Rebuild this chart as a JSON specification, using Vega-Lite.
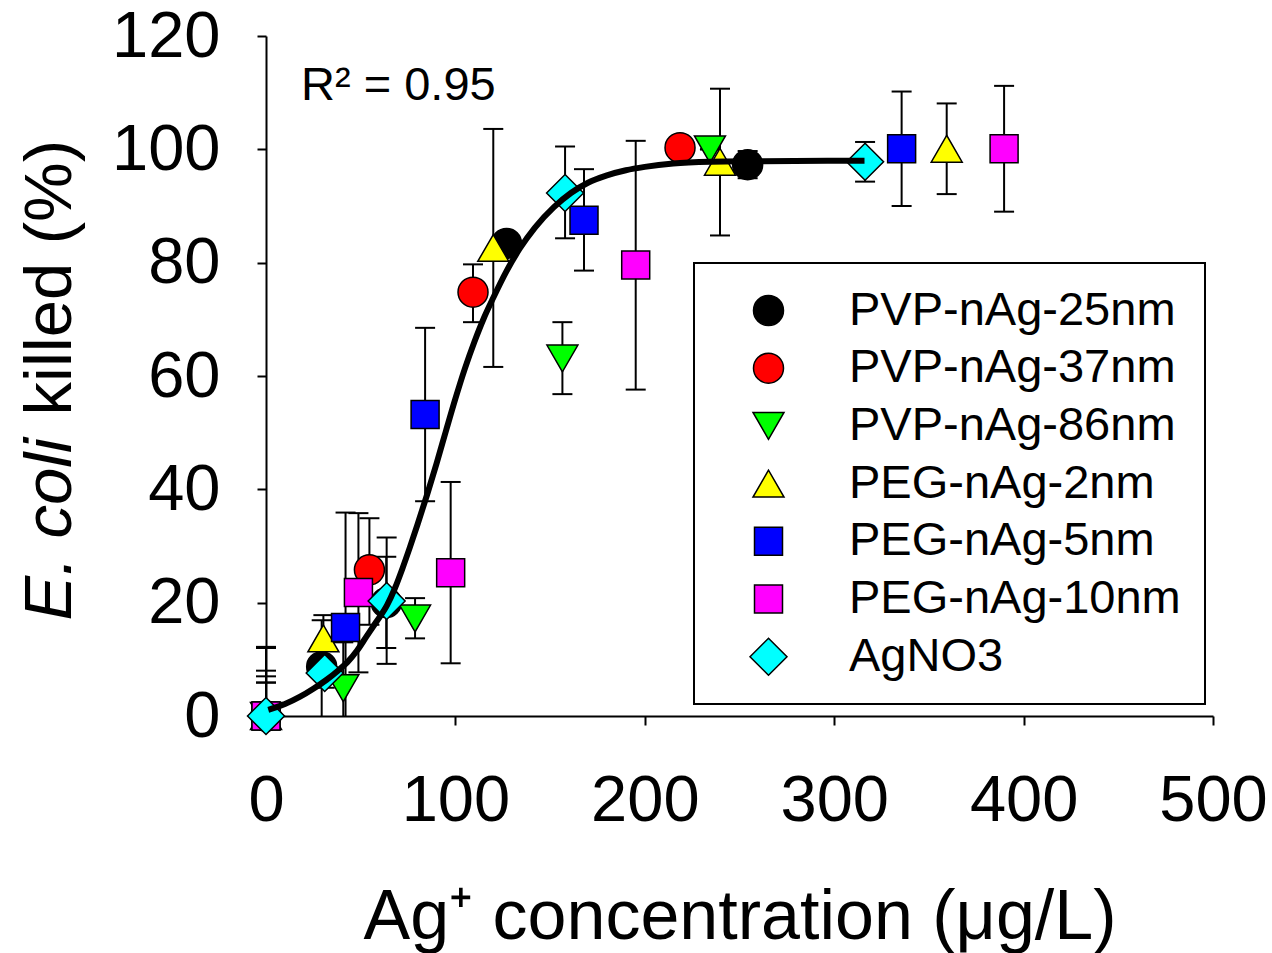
{
  "$schema": "https://vega.github.io/schema/vega-lite/v6.json",
  "width": 947,
  "height": 680,
  "autosize": "none",
  "padding": {"left": 266, "top": 36, "right": 59, "bottom": 237},
  "background": "white",
  "config": {
    "view": {"stroke": null},
    "font": "Liberation Sans",
    "axis": {"grid": false},
    "legend": {"strokeWidth": 2}
  },
  "datasets": {
    "points": [
      {"series": "PVP-nAg-25nm", "x": 0, "y": 0, "lo": 0, "hi": 12.2},
      {"series": "PVP-nAg-25nm", "x": 29.4, "y": 8.7, "lo": 0, "hi": 16.9},
      {"series": "PVP-nAg-25nm", "x": 63.5, "y": 20, "lo": 12, "hi": 28.1},
      {"series": "PVP-nAg-25nm", "x": 127, "y": 83.4, "lo": 83.4, "hi": 83.4},
      {"series": "PVP-nAg-25nm", "x": 254.3, "y": 97.3, "lo": 94.9, "hi": 99.7},
      {"series": "PVP-nAg-37nm", "x": 0, "y": 0, "lo": 0, "hi": 12.0},
      {"series": "PVP-nAg-37nm", "x": 54.6, "y": 25.8, "lo": 16.1, "hi": 34.9},
      {"series": "PVP-nAg-37nm", "x": 109.3, "y": 74.8, "lo": 69.5, "hi": 79.7},
      {"series": "PVP-nAg-37nm", "x": 218.6, "y": 100.3, "lo": 100.3, "hi": 100.3},
      {"series": "PVP-nAg-86nm", "x": 0, "y": 0, "lo": 0, "hi": 8},
      {"series": "PVP-nAg-86nm", "x": 40.8, "y": 4.9, "lo": 0, "hi": 13},
      {"series": "PVP-nAg-86nm", "x": 78.7, "y": 17.2, "lo": 13.7, "hi": 20.8},
      {"series": "PVP-nAg-86nm", "x": 156.5, "y": 63.1, "lo": 56.8, "hi": 69.5},
      {"series": "PVP-nAg-86nm", "x": 234.4, "y": 100.0, "lo": 100.0, "hi": 100.0},
      {"series": "PEG-nAg-2nm", "x": 0, "y": 0, "lo": 0, "hi": 7},
      {"series": "PEG-nAg-2nm", "x": 30.3, "y": 13.7, "lo": 9.6, "hi": 17.8},
      {"series": "PEG-nAg-2nm", "x": 120, "y": 82.6, "lo": 61.6, "hi": 103.6},
      {"series": "PEG-nAg-2nm", "x": 239.7, "y": 97.8, "lo": 84.8, "hi": 110.7},
      {"series": "PEG-nAg-2nm", "x": 359.4, "y": 100.1, "lo": 92.1, "hi": 108.1},
      {"series": "PEG-nAg-5nm", "x": 0, "y": 0, "lo": 0, "hi": 5.9},
      {"series": "PEG-nAg-5nm", "x": 42, "y": 15.6, "lo": 0, "hi": 35.9},
      {"series": "PEG-nAg-5nm", "x": 84, "y": 53.2, "lo": 37.9, "hi": 68.5},
      {"series": "PEG-nAg-5nm", "x": 167.9, "y": 87.5, "lo": 78.6, "hi": 96.5},
      {"series": "PEG-nAg-5nm", "x": 335.6, "y": 100.1, "lo": 90.0, "hi": 110.2},
      {"series": "PEG-nAg-10nm", "x": 0, "y": 0, "lo": 0, "hi": 5.9},
      {"series": "PEG-nAg-10nm", "x": 48.8, "y": 21.8, "lo": 7.7, "hi": 35.8},
      {"series": "PEG-nAg-10nm", "x": 97.5, "y": 25.3, "lo": 9.3, "hi": 41.3},
      {"series": "PEG-nAg-10nm", "x": 195.2, "y": 79.6, "lo": 57.6, "hi": 101.5},
      {"series": "PEG-nAg-10nm", "x": 389.7, "y": 100.1, "lo": 89.0, "hi": 111.2},
      {"series": "AgNO3", "x": 0, "y": 0, "lo": 0, "hi": 0},
      {"series": "AgNO3", "x": 31, "y": 7.6, "lo": 5, "hi": 10},
      {"series": "AgNO3", "x": 63.7, "y": 20.3, "lo": 9.2, "hi": 31.5},
      {"series": "AgNO3", "x": 157.9, "y": 92.3, "lo": 84.3, "hi": 100.5},
      {"series": "AgNO3", "x": 316.3, "y": 97.8, "lo": 94.3, "hi": 101.3}
    ],
    "curve": [
      {"x": 1.2, "y": 1.1}, {"x": 10, "y": 2.1}, {"x": 18, "y": 3.4}, {"x": 25, "y": 4.8},
      {"x": 32, "y": 6.4}, {"x": 38, "y": 8.0}, {"x": 43, "y": 9.5}, {"x": 48, "y": 11.5},
      {"x": 53, "y": 14.0}, {"x": 58, "y": 16.5}, {"x": 64, "y": 19.6}, {"x": 68, "y": 22.5},
      {"x": 72, "y": 26.0}, {"x": 76, "y": 29.8}, {"x": 80, "y": 33.8}, {"x": 85, "y": 39.0},
      {"x": 90, "y": 44.5}, {"x": 95, "y": 50.3}, {"x": 100, "y": 56.0}, {"x": 105, "y": 61.3},
      {"x": 110, "y": 66.0}, {"x": 115, "y": 70.2}, {"x": 120, "y": 73.8}, {"x": 127, "y": 78.5},
      {"x": 134, "y": 82.5}, {"x": 142, "y": 86.2}, {"x": 152, "y": 89.8}, {"x": 161, "y": 92.3},
      {"x": 170, "y": 94.1}, {"x": 180, "y": 95.4}, {"x": 190, "y": 96.3}, {"x": 200, "y": 96.9},
      {"x": 215, "y": 97.5}, {"x": 235, "y": 97.8}, {"x": 260, "y": 97.9}, {"x": 316, "y": 98.0}
    ],
    "note": [{"label": "R² = 0.95"}]
  },
  "layer": [
    {
      "data": {"name": "points"},
      "mark": {"type": "rule", "color": "black", "strokeWidth": 2},
      "encoding": {
        "x": {
          "field": "x", "type": "quantitative",
          "scale": {"domain": [0, 500], "nice": false},
          "axis": {
            "values": [0, 100, 200, 300, 400, 500],
            "title": "Ag⁺ concentration (μg/L)",
            "titleFont": "Liberation Sans", "titleFontSize": 70, "titleFontWeight": "normal",
            "titleColor": "black", "titleY": 222, "titleBaseline": "alphabetic",
            "labelFont": "Liberation Sans", "labelFontSize": 65, "labelColor": "black",
            "labelPadding": 44, "labelFlush": false, "labelOverlap": false,
            "tickSize": 9, "tickWidth": 2, "tickColor": "black",
            "domainColor": "black", "domainWidth": 2, "grid": false
          }
        },
        "y": {
          "field": "lo", "type": "quantitative",
          "scale": {"domain": [0, 120], "nice": false},
          "axis": {
            "values": [0, 20, 40, 60, 80, 100, 120],
            "title": "killed (%)",
            "titleFont": "Liberation Sans", "titleFontSize": 67, "titleFontWeight": "normal",
            "titleColor": "black", "titleAngle": -90, "titleAlign": "left",
            "titleBaseline": "alphabetic", "titleX": -196, "titleY": 379,
            "labelFont": "Liberation Sans", "labelFontSize": 65, "labelColor": "black",
            "labelPadding": 37, "labelOverlap": false, "labelFlush": false,
            "tickSize": 9, "tickWidth": 2, "tickColor": "black",
            "domainColor": "black", "domainWidth": 2, "grid": false
          }
        },
        "y2": {"field": "hi"}
      }
    },
    {
      "data": {"name": "points"},
      "mark": {"type": "tick", "orient": "horizontal", "color": "black", "size": 20, "thickness": 2, "opacity": 1},
      "encoding": {
        "x": {"field": "x", "type": "quantitative", "scale": {"domain": [0, 500], "nice": false}, "axis": null},
        "y": {"field": "hi", "type": "quantitative", "scale": {"domain": [0, 120], "nice": false}, "axis": null}
      }
    },
    {
      "data": {"name": "points"},
      "transform": [{"filter": "datum.lo > 0"}],
      "mark": {"type": "tick", "orient": "horizontal", "color": "black", "size": 20, "thickness": 2, "opacity": 1},
      "encoding": {
        "x": {"field": "x", "type": "quantitative", "scale": {"domain": [0, 500], "nice": false}, "axis": null},
        "y": {"field": "lo", "type": "quantitative", "scale": {"domain": [0, 120], "nice": false}, "axis": null}
      }
    },
    {
      "data": {"name": "points"},
      "mark": {"type": "point", "filled": true, "stroke": "black", "strokeWidth": 1.5, "opacity": 1, "fillOpacity": 1},
      "encoding": {
        "x": {"field": "x", "type": "quantitative", "scale": {"domain": [0, 500], "nice": false}, "axis": null},
        "y": {"field": "y", "type": "quantitative", "scale": {"domain": [0, 120], "nice": false}, "axis": null},
        "fill": {
          "field": "series", "type": "nominal",
          "scale": {
            "domain": ["PVP-nAg-25nm", "PVP-nAg-37nm", "PVP-nAg-86nm", "PEG-nAg-2nm", "PEG-nAg-5nm", "PEG-nAg-10nm", "AgNO3"],
            "range": ["#000000", "#ff0000", "#00ff00", "#ffff00", "#0000ff", "#ff00ff", "#00ffff"]
          },
          "legend": {
            "title": null, "orient": "none", "legendX": 428, "legendY": 227,
            "labelFont": "Liberation Sans", "labelFontSize": 47, "labelColor": "black",
            "labelLimit": 600,
            "strokeColor": "black", "fillColor": "white", "padding": 24,
            "symbolOffset": 27, "labelOffset": 57, "rowPadding": 9.7,
            "symbolStrokeColor": "black", "symbolStrokeWidth": 1.5, "symbolOpacity": 1,
            "encode": {"symbols": {"update": {"stroke": {"value": "black"}, "strokeWidth": {"value": 1.5}}}}
          }
        },
        "shape": {
          "field": "series", "type": "nominal",
          "scale": {
            "domain": ["PVP-nAg-25nm", "PVP-nAg-37nm", "PVP-nAg-86nm", "PEG-nAg-2nm", "PEG-nAg-5nm", "PEG-nAg-10nm", "AgNO3"],
            "range": ["circle", "circle", "triangle-down", "triangle-up", "square", "square", "diamond"]
          },
          "legend": {
            "title": null, "orient": "none", "legendX": 428, "legendY": 227,
            "labelFont": "Liberation Sans", "labelFontSize": 47, "labelColor": "black",
            "labelLimit": 600,
            "strokeColor": "black", "fillColor": "white", "padding": 24,
            "symbolOffset": 27, "labelOffset": 57, "rowPadding": 9.7,
            "symbolStrokeColor": "black", "symbolStrokeWidth": 1.5, "symbolOpacity": 1,
            "encode": {"symbols": {"update": {"stroke": {"value": "black"}, "strokeWidth": {"value": 1.5}}}}
          }
        },
        "size": {
          "field": "series", "type": "nominal",
          "scale": {
            "type": "ordinal",
            "domain": ["PVP-nAg-25nm", "PVP-nAg-37nm", "PVP-nAg-86nm", "PEG-nAg-2nm", "PEG-nAg-5nm", "PEG-nAg-10nm", "AgNO3"],
            "range": [900, 900, 961, 961, 784, 784, 1369]
          },
          "legend": {
            "title": null, "orient": "none", "legendX": 428, "legendY": 227,
            "labelFont": "Liberation Sans", "labelFontSize": 47, "labelColor": "black",
            "labelLimit": 600,
            "strokeColor": "black", "fillColor": "white", "padding": 24,
            "symbolOffset": 27, "labelOffset": 57, "rowPadding": 9.7,
            "symbolStrokeColor": "black", "symbolStrokeWidth": 1.5, "symbolOpacity": 1,
            "encode": {"symbols": {"update": {"stroke": {"value": "black"}, "strokeWidth": {"value": 1.5}}}}
          }
        }
      }
    },
    {
      "data": {"name": "curve"},
      "mark": {"type": "line", "color": "black", "strokeWidth": 6, "interpolate": "monotone"},
      "encoding": {
        "x": {"field": "x", "type": "quantitative", "scale": {"domain": [0, 500], "nice": false}, "axis": null},
        "y": {"field": "y", "type": "quantitative", "scale": {"domain": [0, 120], "nice": false}, "axis": null}
      }
    },
    {
      "data": {"name": "note"},
      "mark": {"type": "text", "align": "left", "baseline": "alphabetic", "font": "Liberation Sans", "fontSize": 47, "color": "black"},
      "encoding": {
        "x": {"datum": 18.5, "type": "quantitative", "scale": {"domain": [0, 500], "nice": false}, "axis": null},
        "y": {
          "datum": 108.7, "type": "quantitative", "scale": {"domain": [0, 120], "nice": false},
          "axis": {
            "orient": "right", "domain": false, "ticks": false, "labels": false, "grid": false,
            "title": "E. coli",
            "titleFont": "Liberation Sans", "titleFontSize": 67, "titleFontWeight": "normal",
            "titleFontStyle": "italic", "titleColor": "black", "titleAngle": -90,
            "titleAlign": "left", "titleBaseline": "alphabetic",
            "titleX": -1143, "titleY": 584
          }
        },
        "text": {"field": "label"}
      }
    }
  ],
  "resolve": {"axis": {"x": "independent", "y": "independent"}}
}
